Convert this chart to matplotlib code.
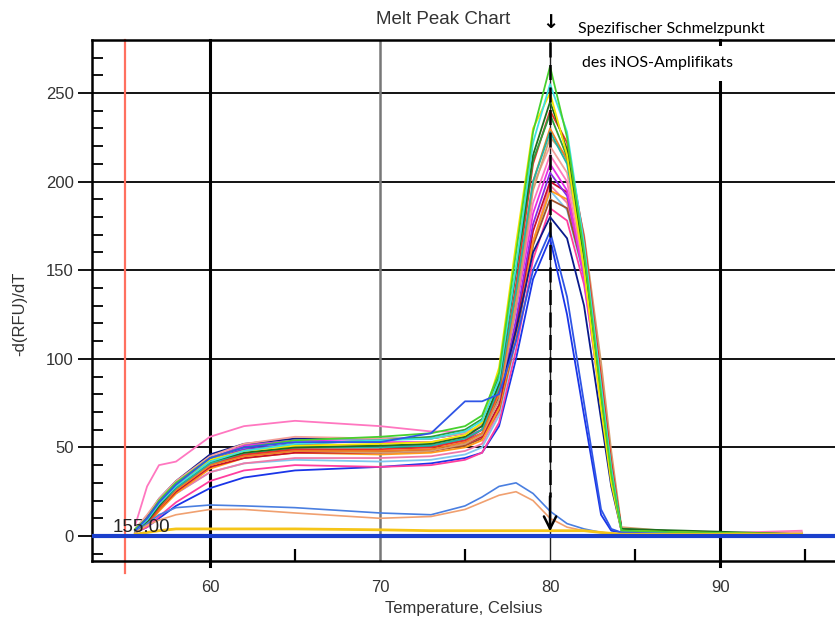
import matplotlib
matplotlib.use("Agg")
import matplotlib.pyplot as plt
from matplotlib.patches import Rectangle
from matplotlib.ticker import MultipleLocator, FixedLocator

# temperature grid (Celsius) shared by all melt curves
temps = [55.6, 56.3, 57, 58, 60, 62, 65, 70, 73, 75, 76, 77, 78, 79, 80, 81, 82, 83, 83.6, 84.2, 88, 94.8]

# -d(RFU)/dT for each well
lime     = [4, 10, 20, 30, 44, 50, 54, 56, 58, 62, 68, 92, 160, 228, 265, 225, 160, 80, 35, 3, 2, 1]
cyan     = [3, 9, 18, 28, 42, 48, 52, 54, 55, 59, 65, 88, 152, 222, 255, 228, 165, 85, 38, 3, 1, 1]
yellow   = [3, 10, 19, 29, 43, 48, 51, 52, 53, 57, 64, 95, 165, 230, 250, 215, 150, 72, 30, 3, 2, 1]
dkgreen  = [2, 8, 17, 28, 42, 47, 50, 51, 52, 56, 62, 86, 150, 215, 245, 218, 158, 80, 36, 4, 3, 1]
red      = [2, 7, 16, 27, 41, 46, 49, 49, 50, 54, 60, 82, 142, 210, 240, 222, 168, 90, 42, 4, 1, 1]
orange   = [2, 7, 15, 26, 40, 45, 48, 48, 49, 53, 58, 80, 136, 200, 230, 212, 162, 88, 40, 3, 1, 1]
tan      = [3, 8, 16, 26, 40, 45, 48, 47, 48, 52, 57, 77, 130, 195, 225, 214, 170, 98, 48, 5, 2, 1]
salmon   = [4, 12, 21, 31, 45, 52, 56, 55, 55, 58, 63, 84, 138, 198, 220, 205, 155, 82, 38, 3, 1, 2]
pink     = [6, 28, 40, 42, 56, 62, 65, 62, 59, 59, 62, 82, 130, 188, 215, 200, 150, 78, 35, 3, 1, 3]
magenta  = [3, 9, 18, 29, 44, 51, 54, 53, 53, 56, 60, 80, 128, 182, 210, 195, 145, 74, 32, 3, 1, 1]
purple   = [3, 9, 17, 28, 43, 49, 52, 51, 51, 54, 58, 77, 122, 176, 205, 192, 148, 78, 36, 3, 1, 1]
dkred    = [2, 7, 15, 25, 39, 44, 47, 47, 48, 52, 56, 74, 118, 172, 200, 194, 155, 86, 42, 4, 1, 1]
amber    = [2, 6, 14, 24, 38, 44, 47, 46, 47, 50, 54, 72, 114, 166, 195, 190, 155, 90, 44, 4, 1, 1]
brown    = [2, 7, 15, 26, 40, 46, 49, 48, 48, 51, 55, 71, 112, 164, 190, 185, 148, 84, 40, 4, 1, 2]
hotpink  = [2, 5, 11, 19, 31, 37, 40, 39, 40, 43, 47, 64, 105, 156, 185, 178, 142, 78, 36, 3, 1, 1]
navy     = [3, 11, 21, 31, 46, 52, 55, 55, 55, 58, 62, 78, 116, 160, 180, 168, 130, 66, 28, 3, 1, 1]
bluebump = [3, 10, 19, 29, 44, 50, 53, 53, 58, 76, 76, 80, 110, 150, 172, 135, 75, 15, 4, 2, 1, 1]
royal    = [2, 5, 10, 17, 27, 33, 37, 39, 41, 44, 47, 62, 100, 145, 168, 125, 68, 12, 3, 2, 1, 1]
ltblue   = [3, 8, 15, 24, 36, 41, 43, 42, 43, 46, 50, 68, 110, 164, 195, 184, 146, 80, 36, 3, 1, 1]
green2   = [3, 9, 18, 28, 42, 48, 52, 54, 56, 60, 66, 90, 150, 212, 238, 214, 158, 82, 36, 4, 2, 1]
rose     = [3, 8, 15, 24, 36, 41, 44, 44, 45, 48, 52, 70, 112, 166, 198, 188, 150, 82, 38, 3, 1, 1]
teal     = [3, 9, 17, 27, 41, 47, 50, 50, 51, 55, 60, 84, 138, 200, 228, 210, 158, 84, 38, 4, 1, 1]

# low-signal wells
blue_low   = [2, 7, 12, 16, 17.5, 17, 16, 13, 12, 17, 22, 28, 30, 24, 14, 7, 4, 2, 1.5, 1, 1, 1]
orange_low = [2, 6, 9, 12, 15, 15, 13, 10, 11, 15, 19, 23, 25, 20, 10, 5, 3, 2, 1.5, 1, 1, 1]
yellow_low = [1, 2, 3, 4, 4, 4, 4, 3.5, 3, 3, 3, 3, 3, 3, 3, 3, 3, 2, 1.5, 1, 1, 1]

wells = [
    (royal, "#1a35e8"), (hotpink, "#ff3fa0"), (ltblue, "#7ec8f0"), (rose, "#f07aa8"),
    (brown, "#a0522d"), (amber, "#ff9a1a"), (dkred, "#c8102e"), (purple, "#8a2be2"),
    (magenta, "#e62ee6"), (navy, "#0a1a8c"), (pink, "#ff77c0"), (salmon, "#f4a09a"),
    (tan, "#d2a06e"), (orange, "#f07f22"), (red, "#e8302a"), (teal, "#22b5a5"),
    (green2, "#2e9e3e"), (dkgreen, "#1d6e1d"), (yellow, "#f5e600"), (cyan, "#3ee0e0"),
    (lime, "#47d12e"), (bluebump, "#2f55e6"),
]

plt.rcParams["font.family"] = ["Liberation Sans", "DejaVu Sans"]

fig = plt.figure(figsize=(8.35, 6.17), dpi=100)
ax = fig.add_axes([92 / 835, 1 - 561 / 617, 743 / 835, 521 / 617])
ax.set_xlim(53.06, 96.76)
ax.set_ylim(-14.1, 279.9)

# grid
for y in [50, 100, 150, 200, 250]:
    ax.axhline(y, color="black", lw=1.3, zorder=1)
ax.axvline(60, color="black", lw=2.2, zorder=1, ymin=-0.01, clip_on=False)
ax.axvline(70, color="#777777", lw=1.8, zorder=1)
ax.axvline(80, color="#222222", lw=1.0, zorder=1)
ax.axvline(90, color="black", lw=2.2, zorder=1, ymin=-0.01, clip_on=False)

ax.plot([55, 55], [279.9, -21], color="#ff7060", lw=1.6, zorder=2, clip_on=False)

for vals, col in wells:
    ax.plot(temps, vals, color=col, lw=1.3, zorder=3)
ax.plot(temps, blue_low, color="#4a7fe0", lw=1.2, zorder=3)
ax.plot(temps, orange_low, color="#f0a070", lw=1.2, zorder=3)
ax.plot(temps, yellow_low, color="#f5c518", lw=2.0, zorder=3)

ax.axhline(0, color="#1a3fcc", lw=3, zorder=4)

# peak marker at 80 C
ax.plot([80, 80], [279, 22], color="black", lw=1.8, ls=(0, (6, 3)), zorder=6)
ax.annotate("", xy=(80, 1), xytext=(80, 24),
            arrowprops=dict(arrowstyle="->", color="black", lw=1.8, mutation_scale=22),
            zorder=6)

ax.text(54.3, 5, "155.00", fontsize=13.5, color="#222222", zorder=7, va="center")

# white label box under the annotation
ax.add_patch(Rectangle((81.5, 257), 15.3, 19.5, facecolor="white", edgecolor="none", zorder=5))

# spines and ticks
for s in ["left", "bottom", "top"]:
    ax.spines[s].set_linewidth(1.8)
ax.spines["right"].set_visible(False)

ax.xaxis.set_major_locator(FixedLocator([60, 70, 80, 90]))
ax.xaxis.set_minor_locator(FixedLocator([65, 75, 85, 95]))
ax.yaxis.set_major_locator(MultipleLocator(50))
ax.yaxis.set_minor_locator(MultipleLocator(10))
ax.tick_params(axis="x", which="major", direction="out", length=0, pad=14,
               labelsize=12, labelcolor="#333333")
ax.tick_params(axis="x", which="minor", direction="in", length=9, width=1.6)
ax.tick_params(axis="y", which="major", direction="out", length=10, width=1.3,
               labelsize=12, labelcolor="#333333", pad=3)
ax.tick_params(axis="y", which="minor", direction="in", length=8, width=1.3)

ax.set_xlabel("Temperature, Celsius", fontsize=12, color="#333333", labelpad=4)

fig.text(20 / 835, 1 - 314 / 617, "-d(RFU)/dT", rotation=90, fontsize=12,
         color="#333333", ha="center", va="center")
fig.text(443 / 835, 1 - 20 / 617, "Melt Peak Chart", fontsize=13.5,
         color="#333333", ha="center", va="center")
fig.text(550 / 835, 1 - 23 / 617, "\u2193", fontsize=14, fontweight="bold",
         family="DejaVu Sans", ha="center", va="center")
fig.text(578 / 835, 1 - 29 / 617, "Spezifischer Schmelzpunkt", fontsize=11.5,
         family="Lato", ha="left", va="center")
fig.text(582 / 835, 1 - 63 / 617, "des iNOS-Amplifikats", fontsize=11.5,
         family="Lato", ha="left", va="center")

fig.savefig("out.png", dpi=100)
